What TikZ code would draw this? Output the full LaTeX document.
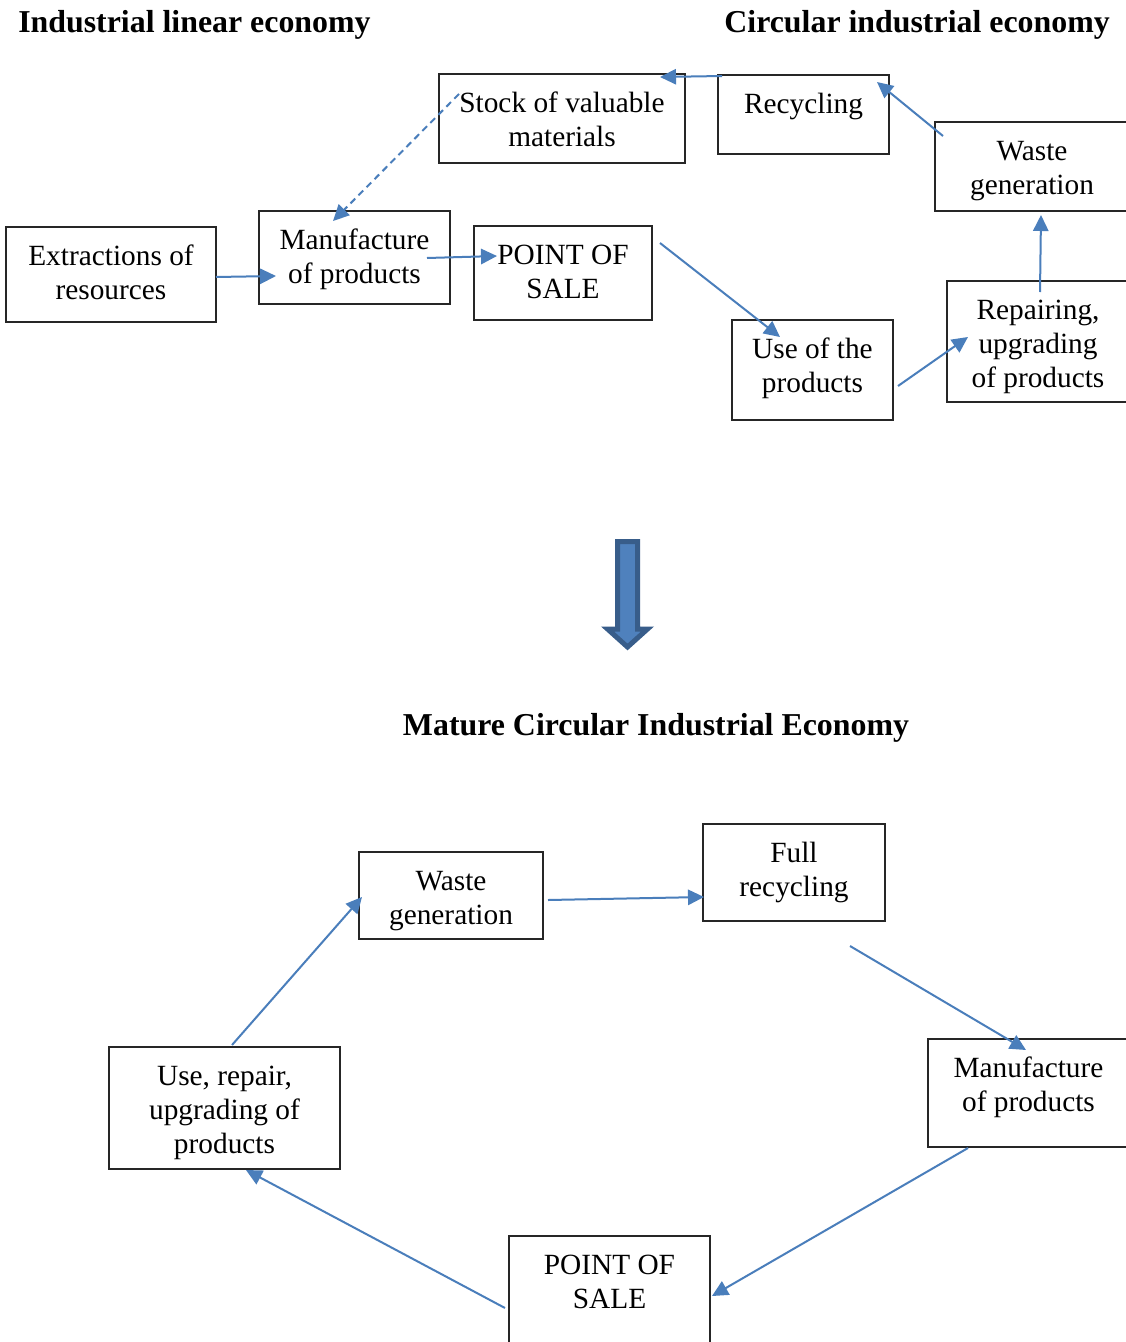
\documentclass[tikz,border=0pt]{standalone}
\usepackage{fontspec}
\setmainfont{Liberation Serif}
\usetikzlibrary{arrows.meta}
\definecolor{arrowblue}{RGB}{74,126,187}
\definecolor{bigfill}{RGB}{79,129,189}
\definecolor{bigborder}{RGB}{56,93,138}
\newdimen\pxu \pxu=0.75pt
\newcommand\boxtext[3]{\vbox to #2\pxu{\hsize=#1\pxu\parindent=0pt\centering\vskip 11pt\strut #3\par\vss}}
\tikzset{
  boxnode/.style={draw=black!85, line width=1.1pt, inner sep=0pt, outer sep=0pt, anchor=north west, font=\fontsize{22}{25.5}\selectfont},
  flow/.style={draw=arrowblue, line width=1.5pt, -{Triangle[length=12pt,width=11.5pt]}},
  dflow/.style={flow, dash pattern=on 5pt off 3.5pt},
  titletext/.style={font=\fontsize{23.9}{28}\selectfont\bfseries, inner sep=0pt}
}
\begin{document}
\begin{tikzpicture}[x=0.75pt,y=-0.75pt]
\useasboundingbox (0,0) rectangle (1126,1342);
\clip (0,0) rectangle (1126,1342);
\fill[white] (0,0) rectangle (1126,1342);

% titles
\node[titletext, anchor=base west] (t1) at (18,32) {Industrial linear economy};
\node[titletext, anchor=base east] (t2) at (1110,32) {Circular industrial economy};
\node[titletext, anchor=base] (t3) at (656,735) {Mature Circular Industrial Economy};

% top boxes
\node[boxnode] (ext) at (6,227) {\boxtext{210}{95}{Extractions of\\resources}};
\node[boxnode] (man1) at (259,211) {\boxtext{191}{93}{Manufacture\\of products}};
\node[boxnode] (pos1) at (474,226) {\boxtext{178}{94}{POINT OF\\SALE}};
\node[boxnode] (stock) at (439,74) {\boxtext{246}{89}{Stock of valuable\\materials}};
\node[boxnode] (recyc) at (718,75) {\boxtext{171}{79}{Recycling}};
\node[boxnode] (waste1) at (935,122) {\boxtext{194}{89}{Waste\\generation}};
\node[boxnode] (rep) at (947,281) {\boxtext{182}{121}{Repairing,\\upgrading\\of products}};
\node[boxnode] (use1) at (732,320) {\boxtext{161}{100}{Use of the\\products}};

% bottom boxes
\node[boxnode] (waste2) at (359,852) {\boxtext{184}{87}{Waste\\generation}};
\node[boxnode] (full) at (703,824) {\boxtext{182}{97}{Full\\recycling}};
\node[boxnode] (man2) at (928,1039) {\boxtext{201}{108}{Manufacture\\of products}};
\node[boxnode] (pos2) at (509,1236) {\boxtext{201}{112}{POINT OF\\SALE}};
\node[boxnode] (use2) at (109,1047) {\boxtext{231}{122}{Use, repair,\\upgrading of\\products}};

% connector end points (top)
\coordinate (ext-out) at (216,277);   \coordinate (man1-in) at (276,276);
\coordinate (man1-out) at (427,258);  \coordinate (pos1-in) at (497,256);
\coordinate (pos1-out) at (660,243);  \coordinate (use1-in) at (780,337);
\coordinate (use1-out) at (898,386);  \coordinate (rep-in) at (968,337);
\coordinate (rep-out) at (1040,292);  \coordinate (waste1-in) at (1041,215);
\coordinate (waste1-out) at (943,136);\coordinate (recyc-in) at (877,82);
\coordinate (recyc-out) at (722,76);  \coordinate (stock-in) at (660,77);
\coordinate (stock-out) at (459,94);  \coordinate (man1-top) at (333,221);

\draw[flow] (ext-out) -- (man1-in);
\draw[flow] (man1-out) -- (pos1-in);
\draw[flow] (pos1-out) -- (use1-in);
\draw[flow] (use1-out) -- (rep-in);
\draw[flow] (rep-out) -- (waste1-in);
\draw[flow] (waste1-out) -- (recyc-in);
\draw[flow] (recyc-out) -- (stock-in);
\draw[dflow] (stock-out) -- (man1-top);

% connector end points (bottom)
\coordinate (waste2-out) at (548,900); \coordinate (full-in) at (704,897);
\coordinate (full-out) at (850,946);   \coordinate (man2-in) at (1026,1050);
\coordinate (man2-out) at (968,1148);  \coordinate (pos2-in) at (712,1296);
\coordinate (pos2-out) at (505,1308);  \coordinate (use2-in) at (246,1170);
\coordinate (use2-out) at (232,1045);  \coordinate (waste2-in) at (362,897);

\draw[flow] (waste2-out) -- (full-in);
\draw[flow] (full-out) -- (man2-in);
\draw[flow] (man2-out) -- (pos2-in);
\draw[flow] (pos2-out) -- (use2-in);
\draw[flow] (use2-out) -- (waste2-in);

% big down arrow
\draw[fill=bigfill, draw=bigborder, line width=3.75pt, line join=miter]
  (617.5,541.5) -- (637.5,541.5) -- (637.5,629) -- (647.5,629) -- (627.5,647) -- (607.5,629) -- (617.5,629) -- cycle;
\end{tikzpicture}
\end{document}
